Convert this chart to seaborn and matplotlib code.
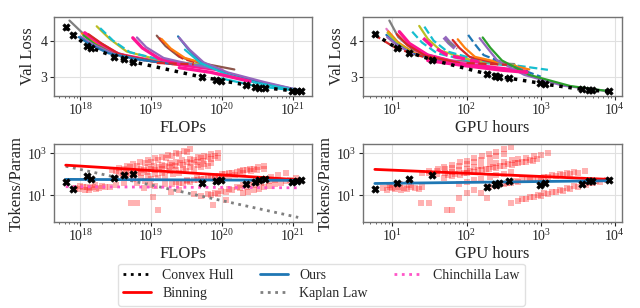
import numpy as np
import pandas as pd
import seaborn as sns
import matplotlib.pyplot as plt
from matplotlib.lines import Line2D

# ---- convex hull runs (FLOPs panel) ----
hull_flops = [6.2e17, 7.9e17, 1.23e18, 1.41e18, 3.0e18, 4.1e18, 5.6e18, 5.2e19, 8.3e19, 9.8e19,
              2.2e20, 2.9e20, 3.4e20, 4.1e20, 9.8e20, 1.15e21, 1.32e21]
hull_loss = [4.37, 4.17, 3.86, 3.80, 3.56, 3.48, 3.41, 2.99, 2.92, 2.89,
             2.77, 2.72, 2.69, 2.69, 2.61, 2.59, 2.59]
hull_tpp = [45, 20, 85, 61, 69, 90, 103, 39, 46, 55, 36, 43, 52, 61, 43, 46, 54]

# ---- convex hull runs (GPU hours panel) ----
hull_gpu = [5.8, 11.5, 17, 34, 186, 240, 250, 275, 370, 980, 1150, 3550, 4470, 4900, 8300]
hull_gpu_loss = [4.18, 3.79, 3.67, 3.47, 3.08, 3.02, 3.01, 2.99, 2.96, 2.82, 2.79, 2.65, 2.62, 2.62, 2.59]
hull_gpu_tpp = [20, 40, 60, 93, 26, 36, 33, 37, 50, 31, 37, 36, 46, 50, 54]

# ---- training curves, FLOPs ----
curves_flops_x = [
    [7.0e17, 1.2e18, 2.2e18, 5e18, 1.5e19],
    [1.05e18, 1.6e18, 3.0e18, 8e18, 2.5e19],
    [1.15e18, 1.8e18, 3.5e18, 1.2e19, 5e19],
    [1.1e18, 1.6e18, 3e18, 1e19],
    [1.3e18, 2e18, 3.5e18, 1.0e19, 4e19],
    [1.7e18, 2.6e18, 4.5e18, 1.2e19, 5e19],
    [1.9e18, 2.9e18, 5e18, 1.5e19, 6e19],
    [1.0e18, 1.5e18, 3e18, 8e18],
    [9.5e17, 1.4e18, 2.5e18, 7e18, 2e19],
    [5.5e18, 7.5e18, 1.3e19, 3e19, 1.0e20],
    [6.3e18, 8.5e18, 1.5e19, 3.5e19, 9e19],
    [1.2e19, 1.6e19, 2.5e19, 5e19, 1.5e20],
    [1.3e19, 1.8e19, 2.8e19, 4.5e19],
    [1.4e19, 1.9e19, 3e19, 6e19],
    [2.4e19, 3.3e19, 5e19, 1.0e20, 3e20, 1.2e21],
    [2.5e19, 3.5e19, 5.5e19, 1.2e20, 4e20, 1.2e21],
    [3e19, 5e19, 1.2e20, 3e20, 1.3e21],
    [1.2e19, 2.5e19, 4e19],
    [2.5e19, 7e19, 2.5e20],
    [1e20, 3e20, 1.3e21],
]
curves_flops_loss = [
    [4.56, 4.12, 3.78, 3.55, 3.40],
    [4.20, 3.95, 3.65, 3.46, 3.32],
    [4.22, 3.95, 3.62, 3.42, 3.27],
    [4.15, 3.90, 3.62, 3.44],
    [4.18, 3.92, 3.63, 3.43, 3.30],
    [4.40, 4.05, 3.70, 3.48, 3.33],
    [4.35, 4.00, 3.68, 3.45, 3.30],
    [4.12, 3.90, 3.62, 3.45],
    [4.10, 3.88, 3.65, 3.47, 3.35],
    [4.08, 3.80, 3.50, 3.32, 3.18],
    [4.09, 3.82, 3.52, 3.35, 3.20],
    [4.14, 3.85, 3.55, 3.38, 3.20],
    [4.08, 3.80, 3.50, 3.38],
    [4.05, 3.78, 3.52, 3.35],
    [4.12, 3.78, 3.42, 3.15, 2.88, 2.63],
    [4.08, 3.75, 3.40, 3.12, 2.85, 2.63],
    [3.75, 3.38, 3.05, 2.83, 2.60],
    [3.38, 3.36, 3.34],
    [3.25, 3.12, 2.87],
    [2.95, 2.74, 2.60],
]
curves_flops_color = ['#7f7f7f', '#ff7f0e', '#ff1493', '#2ca02c', '#d62728', '#bcbd22', '#17becf',
                      '#9467bd', '#1f77b4', '#ff1493', '#9467bd', '#8c564b', '#d62728', '#ff7f0e',
                      '#1f77b4', '#9467bd', '#17becf', '#d62728', '#ff1493', '#17becf']
curves_flops_dash = ['-', '-', '-', '-', '-', '-', '--', '-', '-', '-',
                     '-', '-', '--', '-', '-', '-', '-', '--', '-', '-']

# ---- training curves, GPU hours ----
curves_gpu_x = [
    [9.1, 12, 20, 60, 440],
    [8.3, 11, 18, 50, 200],
    [8.8, 12, 20, 60],
    [8.6, 12, 20, 50],
    [8.3, 11, 18, 45],
    [8.5, 11.5, 19],
    [12.4, 17, 30, 90, 650],
    [11.5, 16, 28, 80],
    [18.5, 25, 40, 120, 500],
    [23, 30, 45, 120, 450],
    [27, 36, 55, 150, 1250],
    [26, 34, 55, 150],
    [50, 58, 70],
    [55, 62, 75],
    [65, 80, 110, 250],
    [76, 95, 130, 300, 700],
    [105, 130, 170, 400, 1000],
    [150, 190, 260, 600, 2000, 8000],
    [165, 210, 300, 700, 2500, 8000],
    [30, 100, 300, 650],
    [100, 200, 350],
    [5.5, 11, 17, 35],
]
curves_gpu_loss = [
    [4.56, 4.10, 3.70, 3.45, 3.35],
    [4.33, 4.00, 3.70, 3.45, 3.30],
    [4.26, 3.95, 3.65, 3.42],
    [4.22, 3.92, 3.62, 3.45],
    [4.16, 3.92, 3.65, 3.45],
    [4.10, 3.88, 3.62],
    [4.25, 3.92, 3.60, 3.35, 3.15],
    [4.18, 3.88, 3.58, 3.38],
    [4.25, 3.95, 3.65, 3.42, 3.28],
    [4.41, 4.05, 3.72, 3.45, 3.32],
    [4.39, 4.00, 3.70, 3.45, 3.19],
    [4.07, 3.85, 3.60, 3.40],
    [4.10, 3.95, 3.80],
    [4.00, 3.90, 3.78],
    [4.02, 3.80, 3.55, 3.38],
    [4.04, 3.80, 3.55, 3.38, 3.20],
    [4.16, 3.90, 3.60, 3.30, 3.00],
    [4.07, 3.80, 3.45, 3.05, 2.75, 2.60],
    [4.09, 3.80, 3.45, 3.05, 2.74, 2.60],
    [3.45, 3.30, 3.18, 3.12],
    [3.38, 3.35, 3.33],
    [4.18, 3.80, 3.67, 3.47],
]
curves_gpu_color = ['#7f7f7f', '#e377c2', '#ff7f0e', '#bcbd22', '#1f77b4', '#9467bd', '#ff1493',
                    '#d62728', '#17becf', '#bcbd22', '#17becf', '#ff1493', '#9467bd', '#7f7f7f',
                    '#d62728', '#ff7f0e', '#1f77b4', '#9467bd', '#2ca02c', '#ff1493', '#d62728',
                    '#d62728']
curves_gpu_dash = ['-', '-', '-', '-', '-', '-', '-', '-', '--', '-', '--',
                   '--', '--', '--', '-', '-', '--', '-', '-', '-', '--', '--']

# ---- all runs, tokens per parameter (stored as log10) ----
scatter_flops_log = [
    17.93, 17.98, 18.03, 18.07, 18.10, 18.14, 18.18, 18.22, 18.26, 18.30, 18.35, 18.00, 18.12, 18.20,
    18.42, 18.50, 18.62, 18.98,
    18.45, 18.55, 18.66, 18.75, 18.84, 18.95, 19.06, 19.15, 19.24, 19.35, 19.46, 19.55,
    18.50, 18.61, 18.70, 18.80, 18.91, 19.00, 19.10, 19.21, 19.30, 19.40, 19.50,
    18.55, 18.64, 18.75, 18.86, 18.95, 19.04, 19.15, 19.26, 19.35, 19.44, 19.55, 19.66, 19.75, 19.85, 19.95,
    18.60, 18.70, 18.81, 18.90, 19.00, 19.11, 19.20, 19.30, 19.41, 19.50, 19.60, 19.71, 19.80, 19.90,
    18.65, 18.76, 18.85, 18.94, 19.05, 19.16, 19.25, 19.34, 19.45, 19.56, 19.65, 19.74, 19.85, 19.95,
    18.75, 18.85, 18.96, 19.05, 19.15, 19.26, 19.35, 19.45, 19.55, 19.66, 19.75, 19.85,
    18.80, 18.91, 19.00, 19.09, 19.20, 19.31, 19.40, 19.49, 19.60, 19.71, 19.80,
    18.90, 19.05, 19.20, 19.35, 19.50, 19.65,
    18.72, 18.80, 19.02, 19.10, 19.28, 19.40, 19.87, 20.06, 19.60,
    19.30, 19.40, 19.51, 19.60, 19.70, 19.81, 19.90, 20.00, 20.10, 20.21, 20.30, 20.40, 20.51, 20.60,
    19.45, 19.55, 19.66, 19.75, 19.85, 19.96, 20.05, 20.15, 20.26, 20.35, 20.45,
    19.90, 20.01, 20.10, 20.19, 20.30, 20.41, 20.50, 20.59,
    19.70, 19.81, 19.90, 19.99, 20.10, 20.21, 20.30, 20.39, 20.50, 20.61, 20.70, 20.79, 20.90,
    19.85, 19.95, 20.06, 20.15, 20.25, 20.36, 20.45, 20.55, 20.66, 20.75,
    20.30, 20.37, 20.45, 20.53, 20.60, 20.67, 20.75, 20.83, 20.90, 20.97, 21.05,
]
scatter_tpp_log = [
    1.35, 1.30, 1.38, 1.28, 1.42, 1.33, 1.40, 1.30, 1.36, 1.44, 1.38, 1.45, 1.25, 1.48,
    1.42, 1.50, 1.57, 1.49,
    2.22, 2.31, 2.41, 2.49, 2.57, 2.67, 2.77, 2.85, 2.93, 3.03, 3.13, 3.20,
    2.15, 2.25, 2.33, 2.42, 2.52, 2.60, 2.69, 2.79, 2.87, 2.96, 3.05,
    2.05, 2.11, 2.19, 2.27, 2.33, 2.39, 2.47, 2.55, 2.61, 2.67, 2.75, 2.83, 2.89, 2.96, 3.02,
    1.98, 2.05, 2.13, 2.19, 2.26, 2.34, 2.40, 2.47, 2.55, 2.61, 2.68, 2.76, 2.82, 2.88,
    1.92, 2.00, 2.06, 2.11, 2.19, 2.27, 2.33, 2.38, 2.46, 2.54, 2.60, 2.65, 2.73, 2.80,
    1.78, 1.85, 1.93, 2.00, 2.07, 2.15, 2.21, 2.28, 2.35, 2.43, 2.49, 2.56,
    1.60, 1.69, 1.76, 1.83, 1.92, 2.01, 2.08, 2.15, 2.24, 2.33, 2.40,
    1.35, 1.45, 1.55, 1.62, 1.72, 1.85,
    0.62, 0.63, 0.93, 0.30, 1.17, 1.25, 0.54, 0.78, 1.05,
    1.55, 1.61, 1.69, 1.74, 1.80, 1.88, 1.93, 2.00, 2.06, 2.13, 2.19, 2.25, 2.33, 2.38,
    1.58, 1.65, 1.73, 1.79, 1.86, 1.94, 2.00, 2.07, 2.15, 2.21, 2.28,
    1.78, 1.86, 1.92, 1.98, 2.06, 2.14, 2.20, 2.26,
    0.95, 1.05, 1.13, 1.21, 1.31, 1.41, 1.50, 1.58, 1.68, 1.78, 1.86, 1.95, 2.05,
    1.00, 1.08, 1.17, 1.25, 1.33, 1.42, 1.50, 1.58, 1.67, 1.75,
    1.10, 1.16, 1.24, 1.32, 1.39, 1.45, 1.53, 1.61, 1.67, 1.74, 1.82,
]

scatter_gpu_log = [
    0.88, 0.93, 0.97, 1.00, 1.04, 1.08, 1.12, 1.16, 1.20, 1.25, 1.30, 1.36, 0.95, 1.10, 1.22, 1.40,
    1.40, 1.50, 1.61, 1.70, 1.80, 1.91, 2.00, 2.10, 2.21, 2.30, 2.40, 2.51, 2.60,
    1.50, 1.60, 1.71, 1.80, 1.90, 2.01, 2.10, 2.20, 2.31, 2.40, 2.50,
    1.60, 1.71, 1.80, 1.90, 2.01, 2.10, 2.20, 2.31, 2.40, 2.50, 2.61, 2.70, 2.80, 2.91, 3.00, 3.10,
    1.75, 1.85, 1.96, 2.05, 2.15, 2.26, 2.35, 2.45, 2.56, 2.65, 2.75, 2.86, 2.95,
    1.70, 1.80, 1.91, 2.00, 2.10, 2.21, 2.30, 2.40, 2.50, 2.61, 2.70, 2.80, 2.90,
    1.90, 2.01, 2.10, 2.20, 2.31, 2.40, 2.50, 2.60,
    2.30, 2.40, 2.51, 2.60, 2.70, 2.81, 2.90, 3.00, 3.10, 3.21, 3.30, 3.40, 3.50, 3.60,
    2.45, 2.55, 2.66, 2.75, 2.85, 2.96, 3.05, 3.15, 3.26, 3.35, 3.45,
    2.60, 2.70, 2.80, 2.91, 3.00, 3.10, 3.21, 3.30, 3.40, 3.50, 3.61, 3.70, 3.80, 3.90,
    2.75, 2.85, 2.96, 3.05, 3.15, 3.26, 3.35, 3.45, 3.56, 3.65, 3.75,
    1.39, 1.50, 1.73, 1.81, 2.00, 1.90, 2.10, 2.20, 2.27,
]
scatter_gpu_tpp_log = [
    1.35, 1.28, 1.40, 1.33, 1.30, 1.38, 1.27, 1.36, 1.30, 1.42, 1.35, 1.30, 1.50, 1.55, 1.48, 1.40,
    2.05, 2.16, 2.25, 2.35, 2.46, 2.57, 2.66, 2.76, 2.88, 2.97, 3.07, 3.19, 3.28,
    2.05, 2.14, 2.24, 2.32, 2.41, 2.51, 2.59, 2.68, 2.78, 2.86, 2.95,
    2.00, 2.08, 2.13, 2.19, 2.28, 2.33, 2.40, 2.48, 2.53, 2.60, 2.68, 2.73, 2.80, 2.88, 2.93, 3.00,
    1.95, 2.01, 2.08, 2.14, 2.21, 2.28, 2.34, 2.41, 2.48, 2.54, 2.61, 2.68, 2.74,
    1.85, 1.91, 1.99, 2.05, 2.11, 2.19, 2.25, 2.31, 2.38, 2.46, 2.52, 2.58, 2.65,
    1.55, 1.64, 1.71, 1.78, 1.88, 1.95, 2.02, 2.11,
    1.42, 1.47, 1.54, 1.59, 1.64, 1.71, 1.76, 1.81, 1.87, 1.93, 1.98, 2.03, 2.09, 2.15,
    1.55, 1.60, 1.67, 1.72, 1.78, 1.84, 1.89, 1.95, 2.01, 2.06, 2.12,
    0.65, 0.73, 0.82, 0.91, 0.98, 1.06, 1.16, 1.23, 1.31, 1.40, 1.49, 1.57, 1.65, 1.73,
    0.85, 0.93, 1.02, 1.10, 1.18, 1.27, 1.35, 1.43, 1.52, 1.60, 1.68,
    0.62, 0.62, 0.30, 0.30, 1.10, 0.86, 1.25, 1.10, 0.86,
]

# ---- fitted laws ----
law_flops = [6.2e17, 1.3e21]
ours_tpp = [58, 52]
binning_tpp = [275, 55]
chinchilla_tpp = [26, 23]
kaplan_flops = [6.2e17, 1.2e21]
kaplan_tpp = [245, 0.9]

law_gpu = [5.8, 8300]
ours_gpu_tpp = [37, 50]
binning_gpu_tpp = [173, 58]

sns.set_style('whitegrid', {
    'axes.edgecolor': '0.45',
    'grid.color': '0.88',
    'xtick.bottom': True,
    'ytick.left': True,
    'xtick.color': '0.15',
    'ytick.color': '0.15',
})
plt.rcParams['font.family'] = ['Liberation Serif', 'DejaVu Serif']
plt.rcParams['mathtext.fontset'] = 'stix'
plt.rcParams['xtick.major.size'] = 3
plt.rcParams['xtick.minor.size'] = 1.5
plt.rcParams['ytick.major.size'] = 3
plt.rcParams['axes.linewidth'] = 1.0

fig = plt.figure(figsize=(6.4, 3.08), dpi=100)
ax_tl = fig.add_axes([0.084, 0.688, 0.403, 0.257])
ax_tr = fig.add_axes([0.567, 0.688, 0.405, 0.257])
ax_bl = fig.add_axes([0.084, 0.279, 0.403, 0.253])
ax_br = fig.add_axes([0.567, 0.279, 0.405, 0.253])

# top row: training curves + convex hull
for xs, ys, c, ls in zip(curves_flops_x, curves_flops_loss, curves_flops_color, curves_flops_dash):
    lw = 2.4 if c == '#ff1493' else 1.6
    sns.lineplot(x=xs, y=ys, ax=ax_tl, color=c, linestyle=ls, linewidth=lw, estimator=None)
sns.lineplot(x=hull_flops, y=hull_loss, ax=ax_tl, color='black', linestyle=':', linewidth=2.5,
             estimator=None)
sns.scatterplot(x=hull_flops, y=hull_loss, ax=ax_tl, marker='X', s=28, color='black',
                edgecolor='black', linewidth=0.5, zorder=5)

for xs, ys, c, ls in zip(curves_gpu_x, curves_gpu_loss, curves_gpu_color, curves_gpu_dash):
    lw = 2.4 if c == '#ff1493' else 1.6
    if ls == '--' and c == '#9467bd':
        lw = 3.2
    sns.lineplot(x=xs, y=ys, ax=ax_tr, color=c, linestyle=ls, linewidth=lw, estimator=None)
sns.lineplot(x=hull_gpu, y=hull_gpu_loss, ax=ax_tr, color='black', linestyle=':', linewidth=2.5,
             estimator=None)
sns.scatterplot(x=hull_gpu, y=hull_gpu_loss, ax=ax_tr, marker='X', s=28, color='black',
                edgecolor='black', linewidth=0.5, zorder=5)

# bottom row: tokens/param
runs_flops = pd.DataFrame({'C': np.power(10.0, scatter_flops_log),
                           'tpp': np.power(10.0, scatter_tpp_log)})
runs_gpu = pd.DataFrame({'G': np.power(10.0, scatter_gpu_log),
                         'tpp': np.power(10.0, scatter_gpu_tpp_log)})

sns.scatterplot(data=runs_flops, x='C', y='tpp', ax=ax_bl, marker='s', s=16, color='#ff0000',
                alpha=0.3, linewidth=0)
sns.lineplot(x=kaplan_flops, y=kaplan_tpp, ax=ax_bl, color='0.5', linestyle=':', linewidth=2)
sns.lineplot(x=law_flops, y=chinchilla_tpp, ax=ax_bl, color='#ff55c8', linestyle=':', linewidth=2)
sns.lineplot(x=law_flops, y=binning_tpp, ax=ax_bl, color='#ff0000', linewidth=2)
sns.lineplot(x=law_flops, y=ours_tpp, ax=ax_bl, color='#1f77b4', linewidth=2)
sns.scatterplot(x=hull_flops, y=hull_tpp, ax=ax_bl, marker='X', s=28, color='black',
                edgecolor='black', linewidth=0.5, zorder=5)

sns.scatterplot(data=runs_gpu, x='G', y='tpp', ax=ax_br, marker='s', s=16, color='#ff0000',
                alpha=0.3, linewidth=0)
sns.lineplot(x=law_gpu, y=binning_gpu_tpp, ax=ax_br, color='#ff0000', linewidth=2)
sns.lineplot(x=law_gpu, y=ours_gpu_tpp, ax=ax_br, color='#1f77b4', linewidth=2)
sns.scatterplot(x=hull_gpu, y=hull_gpu_tpp, ax=ax_br, marker='X', s=28, color='black',
                edgecolor='black', linewidth=0.5, zorder=5)

for ax in [ax_tl, ax_tr, ax_bl, ax_br]:
    ax.set_xscale('log')
    ax.tick_params(axis='both', labelsize=10, pad=1.5)
    ax.tick_params(axis='x', which='minor', bottom=True, length=1.5, color='0.3')

for ax in [ax_tl, ax_tr]:
    ax.set_ylim(2.46, 4.66)
    ax.set_yticks([3, 4])
    ax.set_ylabel('Val Loss', fontsize=12, labelpad=3)

for ax in [ax_bl, ax_br]:
    ax.set_yscale('log')
    ax.set_ylim(0.54, 2750)
    ax.set_yticks([10, 1000])
    ax.yaxis.set_minor_locator(plt.NullLocator())
    ax.set_ylabel('Tokens/Param', fontsize=12, labelpad=2)

ax_tl.set_xlim(4.2e17, 1.86e21)
ax_bl.set_xlim(4.2e17, 1.86e21)
ax_tr.set_xlim(4.0, 12500)
ax_br.set_xlim(4.0, 12500)
ax_tl.set_xlabel('FLOPs', fontsize=12, labelpad=1)
ax_bl.set_xlabel('FLOPs', fontsize=12, labelpad=1)
ax_tr.set_xlabel('GPU hours', fontsize=12, labelpad=1)
ax_br.set_xlabel('GPU hours', fontsize=12, labelpad=1)

handles = [
    Line2D([], [], color='black', linestyle=':', linewidth=2),
    Line2D([], [], color='#ff0000', linewidth=2),
    Line2D([], [], color='#1f77b4', linewidth=2),
    Line2D([], [], color='0.5', linestyle=':', linewidth=2),
    Line2D([], [], color='#ff55c8', linestyle=':', linewidth=2),
]
labels = ['Convex Hull', 'Binning', 'Ours', 'Kaplan Law', 'Chinchilla Law']
fig.legend(handles, labels, loc='center', bbox_to_anchor=(0.502, 0.076), ncol=3,
           fontsize=10, frameon=True, edgecolor='0.85', handlelength=2.0,
           handletextpad=0.8, columnspacing=1.9, labelspacing=0.35, borderpad=0.4)

fig.savefig('out.png', dpi=100)
